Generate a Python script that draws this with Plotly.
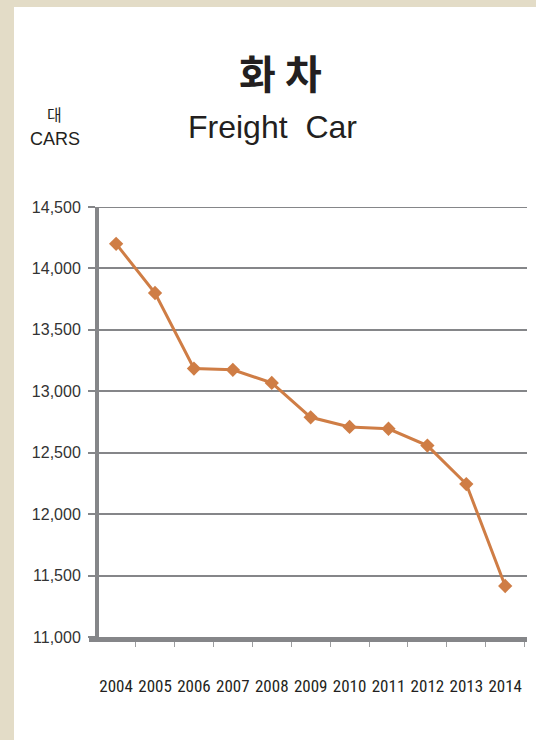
import plotly.graph_objects as go

years = ["2004", "2005", "2006", "2007", "2008", "2009", "2010", "2011", "2012", "2013", "2014"]
cars = [14200, 13800, 13185, 13175, 13068, 12788, 12710, 12695, 12558, 12245, 11415]
y_ticks = [11000, 11500, 12000, 12500, 13000, 13500, 14000, 14500]
y_tick_labels = ["11,000", "11,500", "12,000", "12,500", "13,000", "13,500", "14,000", "14,500"]

W, H = 536, 740
L, R, T, B = 99, 9, 207, 103
PW, PH = W - L - R, H - T - B

def px(x):
    return (x - L) / PW

def py(y):
    return (H - B - y) / PH

GRAY = "#858689"
ORANGE = "#cf7d45"
BEIGE = "#e3dcc7"
TXT = "#231f20"

fig = go.Figure()
fig.add_trace(go.Scatter(
    x=years, y=cars, mode="lines+markers",
    line=dict(color=ORANGE, width=3),
    marker=dict(symbol="diamond", size=11, color=ORANGE),
    showlegend=False, hoverinfo="x+y",
))

fig.update_layout(
    width=W, height=H,
    autosize=False,
    margin=dict(l=L, r=R, t=T, b=B, autoexpand=False),
    paper_bgcolor=BEIGE,
    plot_bgcolor="white",
    shapes=[
        dict(type="rect", xref="paper", yref="paper", x0=px(14), x1=px(540), y0=py(745), y1=py(7),
             fillcolor="white", line=dict(width=0), layer="below"),
        dict(type="line", xref="paper", yref="y", x0=0, x1=1, y0=y_ticks[-1], y1=y_ticks[-1],
             line=dict(color=GRAY, width=2), layer="below"),
        dict(type="line", xref="paper", yref="paper", x0=px(89), x1=px(527), y0=py(639.5), y1=py(639.5),
             line=dict(color=GRAY, width=5), layer="above"),
    ],
    xaxis=dict(
        type="category", range=[-0.44, 10.56], automargin=False, tickangle=0,
        showgrid=False, showline=False, zeroline=False,
        ticks="outside", tickson="boundaries", ticklen=9, tickwidth=1, tickcolor="#9d9ea0",
        tickfont=dict(family="Roboto Condensed, Liberation Sans Narrow, DejaVu Sans Condensed, sans-serif",
                      size=17, color=TXT),
        ticklabelstandoff=37,
    ),
    yaxis=dict(
        range=[11000, 14500], tickvals=y_ticks, ticktext=y_tick_labels, automargin=False,
        showgrid=True, gridcolor=GRAY, gridwidth=2,
        showline=True, linecolor=GRAY, linewidth=4, zeroline=False,
        ticks="outside", ticklen=7, tickwidth=2, tickcolor=GRAY,
        tickfont=dict(family="Liberation Sans, Arial, sans-serif", size=16, color="#333333"),
        ticklabelstandoff=4,
    ),
    annotations=[
        dict(text="<b>화 차</b>", xref="paper", yref="paper", x=px(280), y=py(72),
             xanchor="center", yanchor="middle", showarrow=False,
             font=dict(family="Noto Sans CJK KR", size=40, color=TXT)),
        dict(text="Freight  Car", xref="paper", yref="paper", x=px(272), y=py(127),
             xanchor="center", yanchor="middle", showarrow=False,
             font=dict(family="Liberation Sans, Arial, sans-serif", size=32, color=TXT)),
        dict(text="대", xref="paper", yref="paper", x=px(54), y=py(114),
             xanchor="center", yanchor="middle", showarrow=False,
             font=dict(family="Noto Sans CJK KR", size=16, color=TXT)),
        dict(text="CARS", xref="paper", yref="paper", x=px(55), y=py(139),
             xanchor="center", yanchor="middle", showarrow=False,
             font=dict(family="Liberation Sans, Arial, sans-serif", size=18, color=TXT)),
    ],
)

fig.write_html("out.html", config={"displayModeBar": False},
               post_script="document.body.style.margin='0';document.body.style.overflow='hidden';")
